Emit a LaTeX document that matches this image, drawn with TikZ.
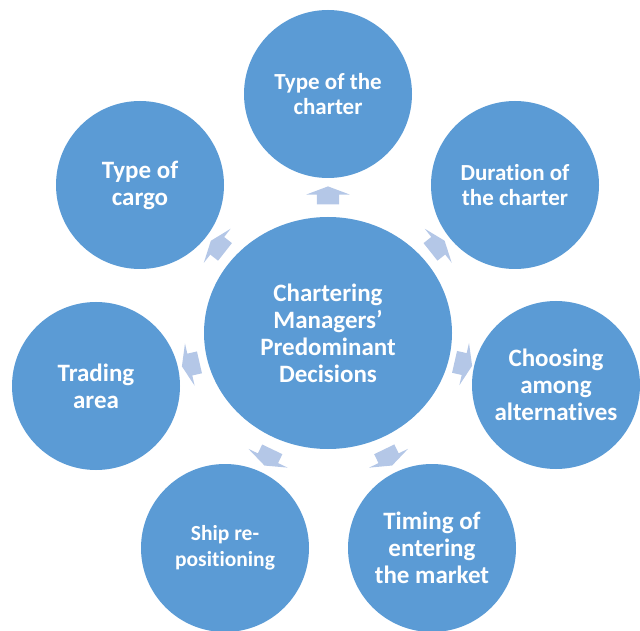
\documentclass[tikz,border=0pt]{standalone}
\usepackage{fontspec}
\setmainfont{Carlito}[Ligatures=NoCommon]
\usepackage{tikz}
\usepackage{xcolor}
\usetikzlibrary{shapes.geometric, shapes.arrows}

\definecolor{leafblue}{HTML}{5B9BD5}
\definecolor{arrowblue}{HTML}{B4C7E7}

\begin{document}
\begin{tikzpicture}[x=1pt, y=1pt,
    hub/.style={ellipse, fill=leafblue, minimum width=248pt, minimum height=232pt,
        inner sep=0pt, text=white, align=center, font=\fontsize{25}{27}\selectfont\bfseries},
    leaf/.style={circle, fill=leafblue, minimum size=168pt, inner sep=0pt,
        text=white, align=center, font=\fontsize{25}{27}\selectfont\bfseries},
    smallleaf/.style={leaf, font=\fontsize{23}{24.5}\selectfont\bfseries},
    outarrow/.style={single arrow, fill=arrowblue, minimum height=18pt, minimum width=43pt,
        text height=22pt, text depth=0pt, text width=0pt,
        single arrow head extend=10.5pt, single arrow tip angle=139, inner sep=0pt,
        sloped, allow upside down}]
    \useasboundingbox (0,0) rectangle (640,630);

    % Centre
    \node[hub] (hub) at (328,297) {Chartering\\Managers’\\Predominant\\Decisions};

    % Decisions round the centre
    \node[smallleaf] (chartertype) at (328,536) {Type of the\\charter};
    \node[smallleaf] (duration) at (515,445) {Duration of\\the charter};
    \node[leaf] (choosing) at (556,245) {Choosing\\among\\alternatives};
    \node[leaf] (timing) at (432,82) {Timing of\\entering\\the market};
    \node[leaf, font=\fontsize{21.5}{26}\selectfont\bfseries] (ship) at (225,82) {Ship re-\\positioning};
    \node[leaf] (trading) at (96,244) {Trading\\area};
    \node[leaf] (cargo) at (140,445) {Type of\\cargo};

    % Arrows from the centre
    \foreach \leafname in {chartertype, duration, choosing, timing, ship, trading, cargo}
        \path (hub) -- node[outarrow] {} (\leafname);
\end{tikzpicture}
\end{document}
